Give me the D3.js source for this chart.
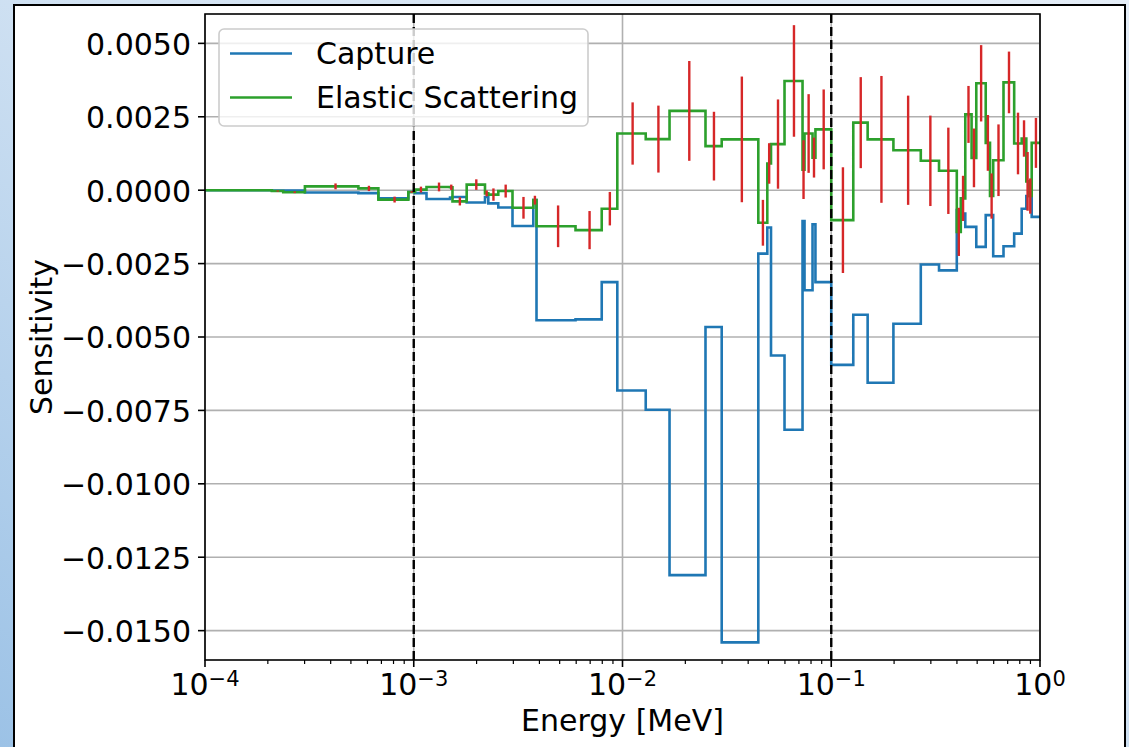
<!DOCTYPE html>
<html>
<head>
<meta charset="utf-8">
<script src="https://cdn.jsdelivr.net/npm/d3@7"></script>
<style>
  html, body { margin: 0; padding: 0; }
  body { width: 1129px; height: 747px; overflow: hidden; }
  text { font-family: "DejaVu Sans", sans-serif; fill: #000; }
</style>
</head>
<body>
<div id="chart"></div>
<script>
// group boundaries [MeV] - one more than the number of bins
const edges = [1e-4, 2.09e-4, 2.37e-4, 3.01e-4, 5.43e-4, 6.77e-4, 9.42e-4, 1.014e-3, 1.151e-3,
  1.492e-3, 1.533e-3, 1.793e-3, 2.194e-3, 2.276e-3, 2.541e-3, 2.972e-3, 3.738e-3, 3.873e-3,
  5.956e-3, 7.952e-3, 9.443e-3, 1.292e-2, 1.680e-2, 2.498e-2, 2.987e-2, 4.473e-2, 4.939e-2,
  5.145e-2, 5.972e-2, 7.285e-2, 7.447e-2, 8.135e-2, 8.40e-2, 0.1, 0.1275, 0.1494, 0.1985,
  0.2685, 0.3283, 0.3994, 0.4174, 0.4386, 0.4702, 0.4952, 0.5495, 0.5761, 0.5968, 0.6686,
  0.7521, 0.8171, 0.8599, 0.8841, 0.9125, 1.0];

// sensitivity per bin
const capture = [0, -0.00001, -0.00001, -0.00008, -0.0001, -0.00028, -0.00006, -0.0001, -0.0003,
  -0.00025, -0.00023, -0.00042, -0.00023, -0.00045, -0.00059, -0.00122, -0.00034, -0.00443,
  -0.0044, -0.00313, -0.00682, -0.00748, -0.01311, -0.00466, -0.0154, -0.00216, -0.00127,
  -0.00563, -0.00816, -0.00105, -0.00341, -0.00116, -0.00313, -0.00595, -0.00424, -0.00656,
  -0.00455, -0.00253, -0.00273, -0.00068, -0.0008, -0.00125, -0.00125, -0.00193, -0.00085,
  -0.00085, -0.00225, -0.00191, -0.00148, -0.00063, -0.0002, -0.0002, -0.00091];

const elastic = [0, -0.00003, -0.00007, 0.00013, 0.00006, -0.00032, -0.00006, 0.00002, 0.00011,
  0.0001, -0.00038, 0.00019, -0.00011, -0.00015, -0.00003, -0.0006, -0.00034, -0.00123,
  -0.00136, -0.00063, 0.00193, 0.00174, 0.0027, 0.0015, 0.00173, -0.00111, 0.00091,
  0.00157, 0.00372, 0.0007, 0.00193, 0.00111, 0.00207, -0.00102, 0.0023, 0.00173,
  0.00136, 0.001, 0.00066, -0.00142, -0.00028, 0.00258, 0.0011, 0.00364, 0.00161,
  -0.0002, 0.00102, 0.00367, 0.00159, 0.00176, 0.0003, -0.0002, 0.00161];

const elasticErr = [0, 0.00002, 0.00003, 0.0001, 0.00009, 0.0001, 0.00003, 0.0001, 0.00015,
  0.00009, 0.00014, 0.00018, 0.0001, 0.00021, 0.00022, 0.00037, 0.00015, 0.00071,
  0.00065, 0.00057, 0.00106, 0.00114, 0.0017, 0.00117, 0.00214, 0.00078, 0.00069,
  0.00152, 0.0019, 0.001, 0.00134, 0.00068, 0.00136, 0.0018, 0.00155, 0.00216,
  0.00186, 0.00154, 0.00147, 0.00082, 0.00077, 0.00097, 0.001, 0.0013, 0.00095,
  0.00077, 0.00122, 0.00105, 0.00105, 0.00062, 0.001, 0.0006, 0.00085];

const seriesNames = ["Capture", "Elastic Scattering"];
const yTicks = [0.005, 0.0025, 0, -0.0025, -0.005, -0.0075, -0.01, -0.0125, -0.015];
const xTicks = [1e-4, 1e-3, 1e-2, 1e-1, 1];
const xTickExp = ["\u22124", "\u22123", "\u22122", "\u22121", "0"];
const markers = [1e-3, 1e-1];

const colors = { capture: "#1f77b4", elastic: "#2ca02c", err: "#d62728" };
const fontSize = 30;

// plot area (pixels)
const pL = 205, pR = 1040, pT = 14, pB = 660;
const x = d3.scaleLog().domain([1e-4, 1]).range([pL, pR]);
const y = d3.scaleLinear().domain([-0.016, 0.006]).range([pB, pT]);

const svg = d3.select("#chart").append("svg").attr("width", 1129).attr("height", 747);
const defs = svg.append("defs");

// slide background
const grad = defs.append("linearGradient").attr("id", "bg")
  .attr("x1", "100%").attr("y1", "0%").attr("x2", "0%").attr("y2", "100%");
grad.append("stop").attr("offset", "0%").attr("stop-color", "#e4edf7");
grad.append("stop").attr("offset", "45%").attr("stop-color", "#d3e3f3");
grad.append("stop").attr("offset", "100%").attr("stop-color", "#9cc2e6");
svg.append("rect").attr("width", 1129).attr("height", 747).attr("fill", "url(#bg)");
svg.append("rect").attr("x", 14).attr("y", 5).attr("width", 1111).attr("height", 760)
  .attr("fill", "#fff").attr("stroke", "#000").attr("stroke-width", 2);

defs.append("clipPath").attr("id", "plot").append("rect")
  .attr("x", pL).attr("y", pT).attr("width", pR - pL).attr("height", pB - pT);

// grid
const grid = svg.append("g").attr("stroke", "#b0b0b0").attr("stroke-width", 1.6);
grid.selectAll("line.h").data(yTicks).join("line").attr("class", "h")
  .attr("x1", pL).attr("x2", pR).attr("y1", d => y(d)).attr("y2", d => y(d));
grid.selectAll("line.v").data(xTicks).join("line").attr("class", "v")
  .attr("y1", pT).attr("y2", pB).attr("x1", d => x(d)).attr("x2", d => x(d));

// steps
const stepPoints = vals => vals.flatMap((v, i) => [[edges[i], v], [edges[i + 1], v]]);
const line = d3.line().x(d => x(d[0])).y(d => y(d[1]));
const plot = svg.append("g").attr("clip-path", "url(#plot)");

plot.append("path").attr("d", line(stepPoints(capture)))
  .attr("fill", "none").attr("stroke", colors.capture).attr("stroke-width", 2.6);
plot.append("path").attr("d", line(stepPoints(elastic)))
  .attr("fill", "none").attr("stroke", colors.elastic).attr("stroke-width", 2.6);

// error bars at bin centres
const mids = elastic.map((v, i) => ({ e: (edges[i] + edges[i + 1]) / 2, v: v, err: elasticErr[i] }))
  .filter(d => d.err > 0);
plot.selectAll("line.err").data(mids).join("line").attr("class", "err")
  .attr("x1", d => x(d.e)).attr("x2", d => x(d.e))
  .attr("y1", d => y(d.v - d.err)).attr("y2", d => y(d.v + d.err))
  .attr("stroke", colors.err).attr("stroke-width", 2.4);

// dashed markers
plot.selectAll("line.mark").data(markers).join("line").attr("class", "mark")
  .attr("x1", d => x(d)).attr("x2", d => x(d)).attr("y1", pT).attr("y2", pB)
  .attr("stroke", "#000").attr("stroke-width", 2.4).attr("stroke-dasharray", "9,4");

// spines
svg.append("rect").attr("x", pL).attr("y", pT).attr("width", pR - pL).attr("height", pB - pT)
  .attr("fill", "none").attr("stroke", "#000").attr("stroke-width", 1.6);

// y ticks
const yFmt = d3.format(".4f");
const yAx = svg.append("g");
yAx.selectAll("line").data(yTicks).join("line")
  .attr("x1", pL - 7).attr("x2", pL).attr("y1", d => y(d)).attr("y2", d => y(d))
  .attr("stroke", "#000").attr("stroke-width", 1.6);
yAx.selectAll("text").data(yTicks).join("text")
  .attr("x", pL - 14).attr("y", d => y(d)).attr("dy", "0.38em")
  .attr("text-anchor", "end").attr("font-size", fontSize)
  .text(d => yFmt(d));

// x ticks, major + minor
const minor = [];
for (let k = -4; k < 0; k++) for (let m = 2; m <= 9; m++) minor.push(m * Math.pow(10, k));
const xAx = svg.append("g");
xAx.selectAll("line.minor").data(minor).join("line").attr("class", "minor")
  .attr("x1", d => x(d)).attr("x2", d => x(d)).attr("y1", pB).attr("y2", pB + 4)
  .attr("stroke", "#000").attr("stroke-width", 1.2);
xAx.selectAll("line.major").data(xTicks).join("line").attr("class", "major")
  .attr("x1", d => x(d)).attr("x2", d => x(d)).attr("y1", pB).attr("y2", pB + 7)
  .attr("stroke", "#000").attr("stroke-width", 1.6);
const xl = xAx.selectAll("text").data(xTicks).join("text")
  .attr("x", d => x(d)).attr("y", 695).attr("text-anchor", "middle").attr("font-size", fontSize);
xl.append("tspan").text("10");
xl.append("tspan").attr("font-size", 21).attr("dy", -9).text((d, i) => xTickExp[i]);

// axis labels
svg.append("text").attr("x", (pL + pR) / 2).attr("y", 731).attr("text-anchor", "middle")
  .attr("font-size", fontSize).text("Energy [MeV]");
svg.append("text").attr("transform", `translate(52,${(pT + pB) / 2}) rotate(-90)`)
  .attr("text-anchor", "middle").attr("font-size", fontSize).text("Sensitivity");

// legend
const leg = svg.append("g");
leg.append("rect").attr("x", 219).attr("y", 29).attr("width", 369).attr("height", 97)
  .attr("rx", 5).attr("fill", "#fff").attr("fill-opacity", 0.8)
  .attr("stroke", "#cccccc").attr("stroke-width", 1.6);
const legItems = leg.selectAll("g.item").data([colors.capture, colors.elastic]).join("g")
  .attr("class", "item").attr("transform", (d, i) => `translate(0,${53.5 + i * 44})`);
legItems.append("line").attr("x1", 230).attr("x2", 292)
  .attr("stroke", d => d).attr("stroke-width", 2.6);
legItems.append("text").attr("x", 316).attr("y", 10.8).attr("font-size", fontSize)
  .text((d, i) => seriesNames[i]);
</script>
</body>
</html>
